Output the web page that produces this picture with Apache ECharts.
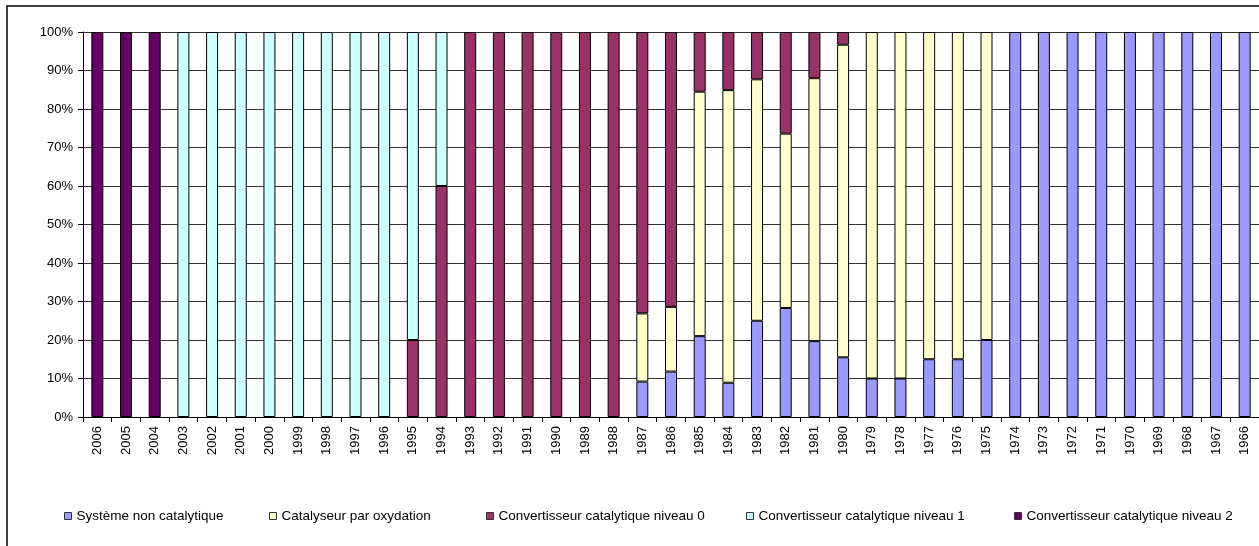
<!DOCTYPE html>
<html>
<head>
<meta charset="utf-8">
<script src="https://cdn.jsdelivr.net/npm/echarts@6/dist/echarts.min.js"></script>
<style>
  html, body { margin: 0; padding: 0; background: #fff; }
  #chart { width: 1259px; height: 546px; }
</style>
</head>
<body>
<div id="chart"></div>
<script>
// Model years, newest first
const years = ['2006','2005','2004','2003','2002','2001','2000','1999','1998','1997','1996','1995','1994',
  '1993','1992','1991','1990','1989','1988','1987','1986','1985','1984','1983','1982','1981','1980',
  '1979','1978','1977','1976','1975','1974','1973','1972','1971','1970','1969','1968','1967','1966'];

// Share of each exhaust treatment per model year (%)
const nonCatalytique = [0,0,0,0,0,0,0,0,0,0,0,0,0,0,0,0,0,0,0,
  9.2,11.8,21.0,8.9,25.0,28.3,19.7,15.5,10,10,15,15,20,
  100,100,100,100,100,100,100,100,100];
const oxydation = [0,0,0,0,0,0,0,0,0,0,0,0,0,0,0,0,0,0,0,
  17.7,16.8,63.5,76.0,62.7,45.3,68.3,81.2,90,90,85,85,80,
  0,0,0,0,0,0,0,0,0];
const niveau0 = [0,0,0,0,0,0,0,0,0,0,0,20,60,100,100,100,100,100,100,
  73.1,71.4,15.5,15.1,12.3,26.4,12.0,3.3,0,0,0,0,0,
  0,0,0,0,0,0,0,0,0];
const niveau1 = [0,0,0,100,100,100,100,100,100,100,100,80,40,0,0,0,0,0,0,
  0,0,0,0,0,0,0,0,0,0,0,0,0,
  0,0,0,0,0,0,0,0,0];
const niveau2 = [100,100,100,0,0,0,0,0,0,0,0,0,0,0,0,0,0,0,0,
  0,0,0,0,0,0,0,0,0,0,0,0,0,
  0,0,0,0,0,0,0,0,0];

const yTicks = { min: 0, max: 100, interval: 10 };

const seriesDefs = [
  { name: 'Système non catalytique', data: nonCatalytique, color: '#9999FF' },
  { name: 'Catalyseur par oxydation', data: oxydation, color: '#FFFFCC' },
  { name: 'Convertisseur catalytique niveau 0', data: niveau0, color: '#993366' },
  { name: 'Convertisseur catalytique niveau 1', data: niveau1, color: '#CCFFFF' },
  { name: 'Convertisseur catalytique niveau 2', data: niveau2, color: '#660066' }
];

const FONT = '"Liberation Sans", Arial, sans-serif';
const legendLeft = [64, 269, 486, 746, 1014];

const chart = echarts.init(document.getElementById('chart'), null, { renderer: 'canvas' });

chart.setOption({
  animation: false,
  backgroundColor: '#fff',
  textStyle: { fontFamily: FONT },
  graphic: [{
    type: 'rect',
    shape: { x: 7, y: 6, width: 1400, height: 700 },
    style: { fill: 'none', stroke: '#000', lineWidth: 1.5 },
    silent: true
  }],
  grid: { left: 83, top: 32, width: 1178, height: 385, containLabel: false },
  legend: seriesDefs.map((s, i) => ({
    data: [s.name],
    left: legendLeft[i],
    top: 509,
    padding: 0,
    itemWidth: 7,
    itemHeight: 7,
    itemGap: 0,
    icon: 'rect',
    selectedMode: false,
    itemStyle: { borderColor: '#333', borderWidth: 1 },
    textStyle: { fontFamily: FONT, fontSize: 13.5, color: '#000' }
  })),
  xAxis: {
    type: 'category',
    data: years,
    boundaryGap: true,
    axisLine: { lineStyle: { color: '#000', width: 1 } },
    axisTick: { show: true, length: 5, lineStyle: { color: '#000' } },
    axisLabel: { rotate: 90, margin: 9, fontSize: 13, color: '#000', fontFamily: FONT },
    splitLine: { show: false }
  },
  yAxis: {
    type: 'value',
    min: yTicks.min,
    max: yTicks.max,
    interval: yTicks.interval,
    axisLine: { show: true, lineStyle: { color: '#000', width: 1 } },
    axisTick: { show: true, length: 5, lineStyle: { color: '#000' } },
    axisLabel: { formatter: '{value}%', fontSize: 13, color: '#000', margin: 10, fontFamily: FONT },
    splitLine: { show: true, lineStyle: { color: '#333', width: 1 } }
  },
  series: seriesDefs.map(s => ({
    name: s.name,
    type: 'bar',
    stack: 'total',
    barWidth: 12,
    data: s.data.map(v => (v === 0 ? '-' : v)),
    itemStyle: { color: s.color, borderColor: '#000', borderWidth: 1 },
    emphasis: { disabled: true }
  }))
});
</script>
</body>
</html>
